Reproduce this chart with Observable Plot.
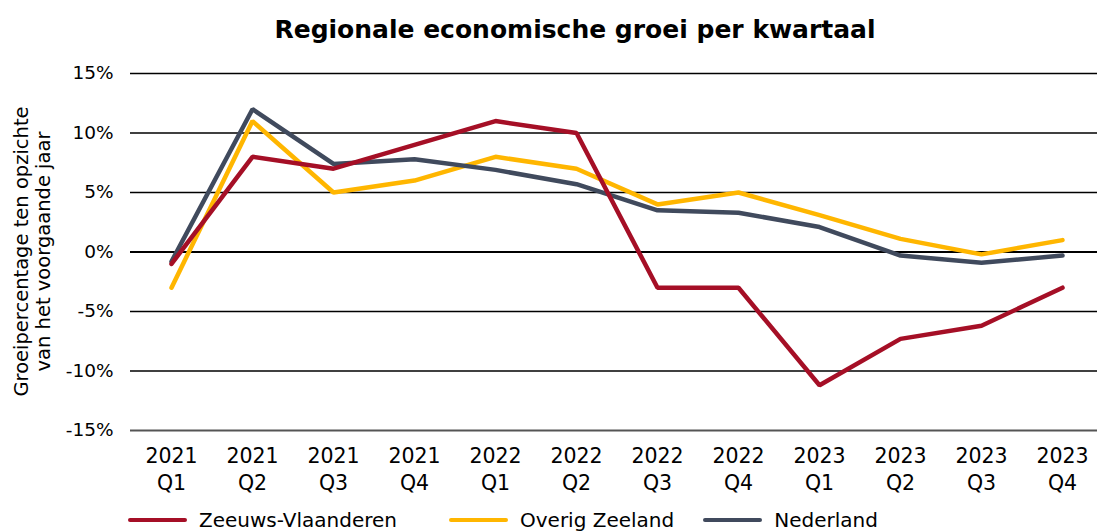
<!DOCTYPE html>
<html>
<head>
<meta charset="utf-8">
<script src="https://cdn.jsdelivr.net/npm/d3@7"></script>
<script src="https://cdn.jsdelivr.net/npm/@observablehq/plot@0.6"></script>
<style>
  body { margin: 0; background: #fff; font-family: "DejaVu Sans", sans-serif; }
  #wrap { width: 1097px; position: relative; }
  #title { height: 55px; line-height: 60px; text-align: center; font-size: 25px; font-weight: bold; color: #000; padding-left: 53px; }
  #legend { display: flex; align-items: center; font-size: 20px; color: #000; height: 40px; padding-left: 128px; }
  .item { display: flex; align-items: center; }
  .sw { width: 59px; height: 4.5px; border-radius: 2px; margin-right: 12px; }
</style>
</head>
<body>
<div id="wrap">
  <div id="title">Regionale economische groei per kwartaal</div>
  <div id="chart"></div>
  <div id="legend"></div>
</div>
<script>
const quarters = ["2021 Q1","2021 Q2","2021 Q3","2021 Q4","2022 Q1","2022 Q2","2022 Q3","2022 Q4","2023 Q1","2023 Q2","2023 Q3","2023 Q4"];
const seriesNames = ["Zeeuws-Vlaanderen", "Overig Zeeland", "Nederland"];
const zeeuwsVlaanderen = [-1, 8, 7, 9, 11, 10, -3, -3, -11.2, -7.3, -6.2, -3];
const overigZeeland = [-3, 11, 5, 6, 8, 7, 4, 5, 3.1, 1.1, -0.2, 1];
const nederland = [-0.8, 12, 7.4, 7.8, 6.9, 5.7, 3.5, 3.3, 2.1, -0.3, -0.9, -0.3];
const yTicks = [-15, -10, -5, 0, 5, 10, 15];
const colors = ["#A50F26", "#FFB600", "#404A5D"];

const valuesBySeries = [zeeuwsVlaanderen, overigZeeland, nederland];
const data = [];
seriesNames.forEach((s, i) => {
  quarters.forEach((q, j) => data.push({series: s, quarter: q, value: valuesBySeries[i][j]}));
});
const drawOrder = ["Overig Zeeland", "Nederland", "Zeeuws-Vlaanderen"];

const plot = Plot.plot({
  width: 1097,
  height: 445,
  marginTop: 18,
  marginLeft: 130,
  marginRight: -6,
  marginBottom: 70,
  style: { fontFamily: "'DejaVu Sans', sans-serif", fontSize: "20px", color: "#000", background: "#fff" },
  x: { type: "point", domain: quarters, padding: 0.5, label: null },
  y: { domain: [-15, 15], ticks: yTicks, label: null },
  color: { domain: seriesNames, range: colors },
  marks: [
    Plot.ruleY(yTicks.filter(d => d !== 0 && d !== -15), { stroke: "#000", strokeWidth: 1.3 }),
    Plot.ruleY([-15], { stroke: "#555", strokeWidth: 2 }),
    Plot.ruleY([0], { stroke: "#000", strokeWidth: 2.2 }),
    Plot.axisY({ ticks: yTicks, tickSize: 0, tickPadding: 17, tickFormat: d => `${d}%`, fontSize: 18.5 }),
    Plot.axisX({ tickSize: 0, tickPadding: 13, lineHeight: 1.32, fontSize: 20.5, tickFormat: d => d.replace(" ", "\n") }),
    ...drawOrder.map(s => Plot.line(data.filter(d => d.series === s), {
      x: "quarter", y: "value", stroke: "series", strokeWidth: 4.5, strokeLinejoin: "miter", strokeLinecap: "round"
    }))
  ]
});
document.getElementById("chart").appendChild(plot);

// y-axis title
const svg = d3.select(plot);
const yTitle = svg.append("text")
  .attr("transform", `translate(31, ${(18 + 375) / 2}) rotate(-90)`)
  .attr("text-anchor", "middle")
  .style("font-size", "19.5px")
  .style("font-family", "'DejaVu Sans', sans-serif")
  .attr("fill", "#000");
yTitle.append("tspan").attr("x", 0).attr("dy", "-0.15em").text("Groeipercentage ten opzichte");
yTitle.append("tspan").attr("x", 0).attr("dy", "1.13em").text("van het voorgaande jaar");

// legend
const legend = d3.select("#legend");
const gaps = [52, 29, 0];
seriesNames.forEach((s, i) => {
  const it = legend.append("div").attr("class", "item").style("margin-right", gaps[i] + "px");
  it.append("div").attr("class", "sw").style("background", colors[i]);
  it.append("span").text(s);
});
</script>
</body>
</html>
